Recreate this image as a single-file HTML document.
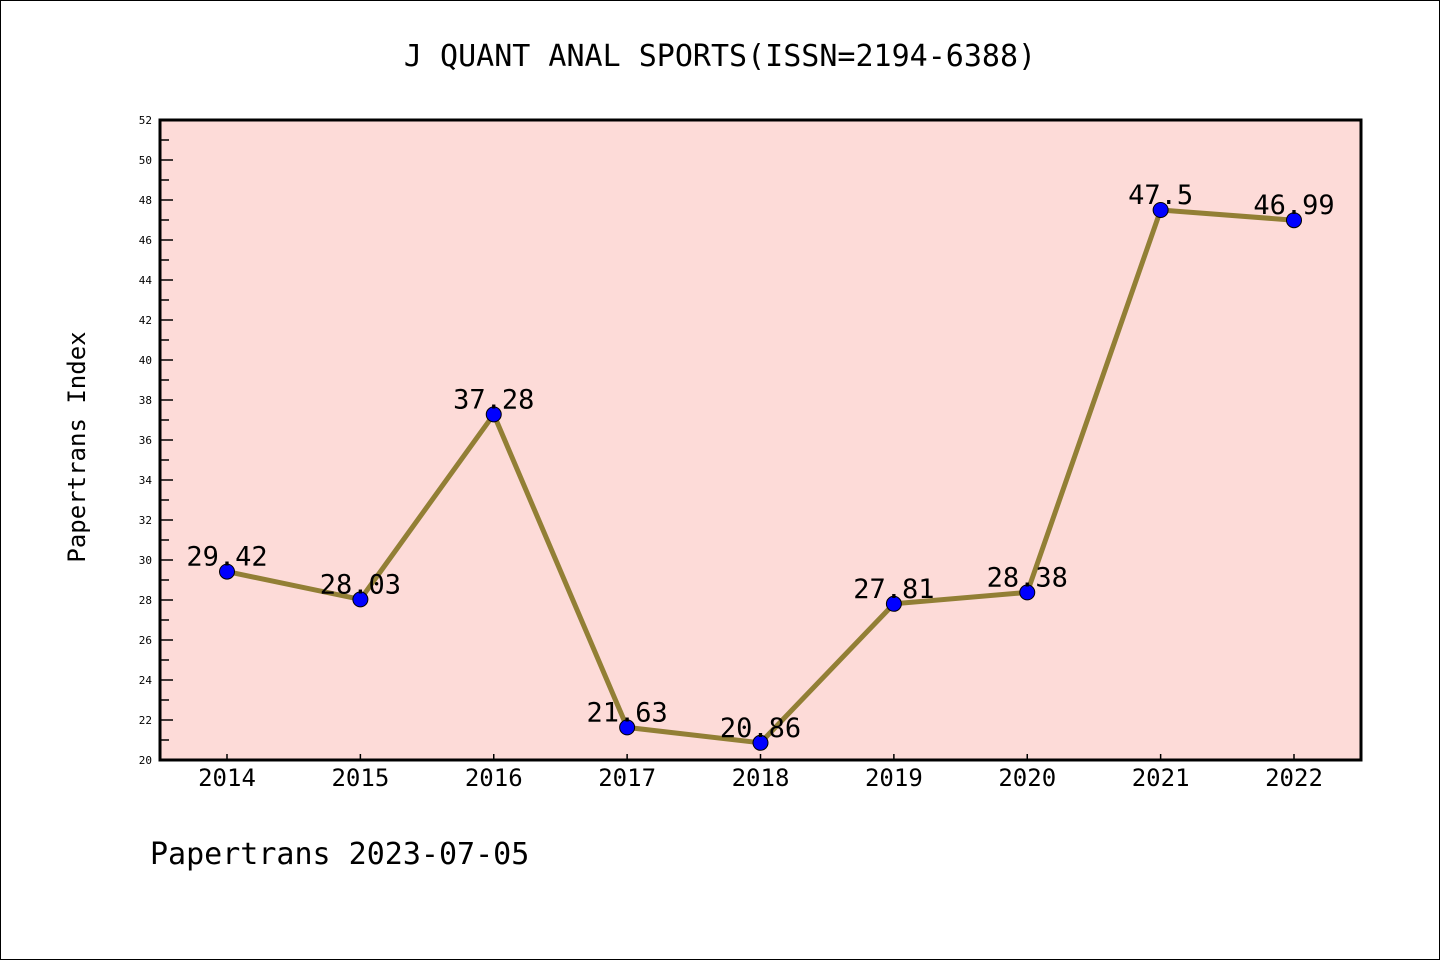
<!DOCTYPE html>
<html><head><meta charset="utf-8"><style>
html,body{margin:0;padding:0;background:#fff}
svg{display:block}
text{font-family:"WenQuanYi Zen Hei Mono","WenQuanYi Zen Hei","DejaVu Sans Mono",monospace;fill:#000}
</style></head><body>
<svg id="chart" width="1440" height="960" xmlns="http://www.w3.org/2000/svg">
<rect x="0.5" y="0.5" width="1439" height="959" fill="#fff" stroke="#000" stroke-width="1"/>
<text x="720" y="66" font-size="30" text-anchor="middle">J QUANT ANAL SPORTS(ISSN=2194-6388)</text>
<rect x="160" y="120" width="1201" height="640" fill="#fddbd8"/>
<g id="yticks"></g>
<g id="xticks"></g>
<g id="series"></g>
<rect x="160" y="120" width="1201" height="640" fill="none" stroke="#000" stroke-width="3"/>
<text transform="translate(85,447) rotate(-90)" font-size="24" text-anchor="middle">Papertrans Index</text>
<text x="150" y="864" font-size="30">Papertrans 2023-07-05</text>
</svg>
<script>
const categories = ["2014","2015","2016","2017","2018","2019","2020","2021","2022"];
const values = [29.42,28.03,37.28,21.63,20.86,27.81,28.38,47.5,46.99];
const valueLabels = ["29.42","28.03","37.28","21.63","20.86","27.81","28.38","47.5","46.99"];
const yTicks = [20,22,24,26,28,30,32,34,36,38,40,42,44,46,48,50,52];
const NS="http://www.w3.org/2000/svg";
const yMin=20,yMax=52,plotTop=120,plotBottom=760,plotLeft=160;
function y(v){return plotBottom-(v-yMin)/(yMax-yMin)*(plotBottom-plotTop);}
function x(i){return 227+i*(1294-227)/(categories.length-1);}
function mk(tag,attrs,parent){const e=document.createElementNS(NS,tag);for(const k in attrs)e.setAttribute(k,attrs[k]);parent.appendChild(e);return e;}
const yg=document.getElementById('yticks');
yTicks.forEach((t,i)=>{
  const l=mk('line',{x1:plotLeft,x2:plotLeft+13,y1:y(t),y2:y(t),stroke:'#000','stroke-width':1.5},yg);
  
  
  const tx=mk('text',{x:plotLeft-8,y:y(t)+4,'font-size':11,'text-anchor':'end'},yg);
  tx.textContent=t;
  
  
  if(i<yTicks.length-1){
    const m=mk('line',{x1:plotLeft,x2:plotLeft+9,y1:y(t+1),y2:y(t+1),stroke:'#000','stroke-width':1.5},yg);
    
    
  }
});
const xg=document.getElementById('xticks');
categories.forEach((c,i)=>{
  const l=mk('line',{x1:x(i),x2:x(i),y1:plotBottom,y2:plotBottom-6,stroke:'#000','stroke-width':1.5},xg);
  
  
  const tx=mk('text',{x:x(i),y:plotBottom+26,'font-size':24,'text-anchor':'middle'},xg);
  tx.textContent=c;
  
  
});
const sg=document.getElementById('series');
const pl=mk('polyline',{points:values.map((v,i)=>x(i)+','+y(v)).join(' '),fill:'none',stroke:'#927f35','stroke-width':5,'stroke-linejoin':'miter'},sg);


values.forEach((v,i)=>{
  const c=mk('circle',{cx:x(i),cy:y(v),r:7.5,fill:'#0000ff',stroke:'#000','stroke-width':1},sg);
  
  
});
values.forEach((v,i)=>{
  const t=mk('text',{x:x(i),y:y(v)-6,'font-size':27,'text-anchor':'middle'},sg);
  t.textContent=valueLabels[i];
  
  
});
</script>
</body></html>
